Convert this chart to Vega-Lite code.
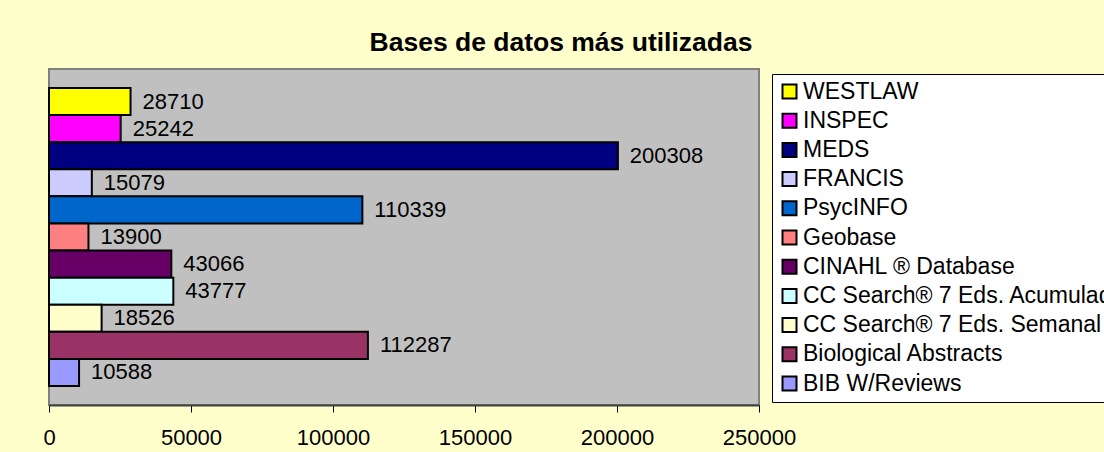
{
  "$schema": "https://vega.github.io/schema/vega-lite/v6.json",
  "autosize": {"type": "none"},
  "width": 710,
  "height": 336,
  "padding": {"left": 49, "top": 69, "right": 345, "bottom": 47},
  "background": "#FFFFCC",
  "config": {
    "view": {"fill": "#C0C0C0", "stroke": "#808080", "strokeWidth": 2},
    "font": "Liberation Sans"
  },
  "title": {
    "text": "Bases de datos más utilizadas",
    "font": "Liberation Sans",
    "fontSize": 26.5,
    "fontWeight": "bold",
    "color": "#000000",
    "anchor": "middle",
    "dx": 157,
    "dy": 26,
    "baseline": "bottom",
    "offset": 12
  },
  "data": {
    "values": [
      {"base": "WESTLAW", "valor": 28710},
      {"base": "INSPEC", "valor": 25242},
      {"base": "MEDS", "valor": 200308},
      {"base": "FRANCIS", "valor": 15079},
      {"base": "PsycINFO", "valor": 110339},
      {"base": "Geobase", "valor": 13900},
      {"base": "CINAHL ® Database", "valor": 43066},
      {"base": "CC Search® 7 Eds. Acumulada", "valor": 43777},
      {"base": "CC Search® 7 Eds. Semanal", "valor": 18526},
      {"base": "Biological Abstracts", "valor": 112287},
      {"base": "BIB W/Reviews", "valor": 10588}
    ]
  },
  "encoding": {
    "y": {
      "field": "base",
      "type": "nominal",
      "sort": ["WESTLAW", "INSPEC", "MEDS", "FRANCIS", "PsycINFO", "Geobase", "CINAHL ® Database", "CC Search® 7 Eds. Acumulada", "CC Search® 7 Eds. Semanal", "Biological Abstracts", "BIB W/Reviews"],
      "axis": null,
      "scale": {"paddingInner": 0, "paddingOuter": 0.7}
    },
    "x": {
      "field": "valor",
      "type": "quantitative",
      "scale": {"domain": [0, 250000], "nice": false},
      "axis": {
        "title": null,
        "grid": false,
        "values": [0, 50000, 100000, 150000, 200000, 250000],
        "format": "d",
        "labelFont": "Liberation Sans",
        "labelFontSize": 22,
        "labelColor": "#000000",
        "labelPadding": 15,
        "labelFlush": false,
        "labelOverlap": false,
        "tickSize": 7,
        "tickColor": "#000000",
        "domainColor": "#404040",
        "domainWidth": 2
      }
    }
  },
  "layer": [
    {
      "mark": {"type": "bar", "stroke": "#000000", "strokeWidth": 2, "opacity": 1},
      "encoding": {
        "color": {
          "field": "base",
          "type": "nominal",
          "scale": {
            "domain": ["WESTLAW", "INSPEC", "MEDS", "FRANCIS", "PsycINFO", "Geobase", "CINAHL ® Database", "CC Search® 7 Eds. Acumulada", "CC Search® 7 Eds. Semanal", "Biological Abstracts", "BIB W/Reviews"],
            "range": ["#FFFF00", "#FF00FF", "#000080", "#CCCCFF", "#0066CC", "#FF8080", "#660066", "#CCFFFF", "#FFFFCC", "#993366", "#9999FF"]
          },
          "legend": {
            "orient": "none",
            "legendX": 723,
            "legendY": 5,
            "title": null,
            "padding": 6,
            "fillColor": "#FFFFFF",
            "strokeColor": "#000000",
            "cornerRadius": 0,
            "symbolType": "square",
            "symbolSize": 196,
            "symbolStrokeColor": "#000000",
            "symbolStrokeWidth": 2,
            "symbolOpacity": 1,
            "labelFont": "Liberation Sans",
            "labelFontSize": 23,
            "labelColor": "#000000",
            "labelLimit": 600,
            "labelOffset": 2,
            "rowPadding": 5.2
          }
        }
      }
    },
    {
      "mark": {"type": "text", "align": "left", "baseline": "middle", "dx": 12, "font": "Liberation Sans", "fontSize": 22, "color": "#000000"},
      "encoding": {
        "text": {"field": "valor", "type": "quantitative", "format": "d"}
      }
    }
  ]
}
